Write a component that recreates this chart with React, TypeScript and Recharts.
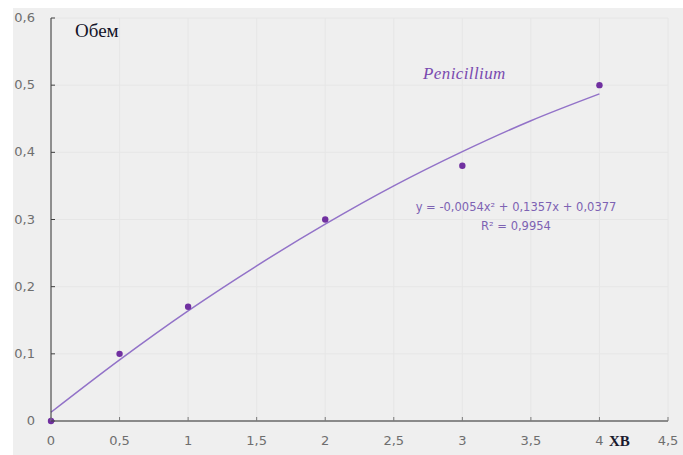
import { CartesianGrid, ComposedChart, Line, Scatter, XAxis, YAxis } from "recharts";

// measured points
const xValues = [0, 0.5, 1, 2, 3, 4];
const yValues = [0, 0.1, 0.17, 0.3, 0.38, 0.5];

// trend line
const trendX = [0, 0.5, 1, 1.5, 2, 2.5, 3, 3.5, 4];
const trendY = [0.013, 0.091, 0.164, 0.231, 0.293, 0.35, 0.401, 0.447, 0.487];

const xTicks = [0, 0.5, 1, 1.5, 2, 2.5, 3, 3.5, 4, 4.5];
const yTicks = [0, 0.1, 0.2, 0.3, 0.4, 0.5, 0.6];

const points = xValues.map((x, i) => ({ x, y: yValues[i] }));
const trend = trendX.map((x, i) => ({ x, t: trendY[i] }));

const fmt = (v: number) => String(v).replace(".", ",");

const labelFont = "DejaVu Sans, sans-serif";
const labelColor = "#6e6e6e";

function YTick({ x, y, payload }: any) {
  return (
    <g>
      <line x1={x + 16} x2={x + 20} y1={y} y2={y} stroke="#404040" />
      <text x={x} y={y} dy={4} textAnchor="end" fontSize={13} fontFamily={labelFont} fill={labelColor}>
        {fmt(payload.value)}
      </text>
    </g>
  );
}

function XTick({ x, y, payload }: any) {
  return (
    <g>
      <line x1={x} x2={x} y1={y - 13} y2={y - 17} stroke="#7a7a7a" />
      <text x={x} y={y} dy={11} textAnchor="middle" fontSize={13} fontFamily={labelFont} fill={labelColor}>
        {fmt(payload.value)}
      </text>
    </g>
  );
}

function Dot({ cx, cy }: any) {
  return <circle cx={cx} cy={cy} r={3.2} fill="#7030a0" />;
}

export default function App() {
  return (
    <div style={{ position: "absolute", left: 0, top: 0, width: 683, height: 455, background: "#ffffff" }}>
      <div style={{ position: "absolute", left: 13, top: 8, width: 670, height: 447, background: "#efefef" }} />
      <div style={{ position: "absolute", left: 0, top: 0 }}>
        <ComposedChart width={683} height={455} margin={{ top: 18, right: 15, bottom: 10, left: 0 }}>
          <CartesianGrid stroke="#e6e6e6" />
          <XAxis
            type="number"
            dataKey="x"
            domain={[0, 4.5]}
            ticks={xTicks}
            height={24}
            tickSize={0}
            tickMargin={13}
            tick={<XTick />}
            axisLine={{ stroke: "#8a8a8a", strokeWidth: 2 }}
            tickLine={false}
          />
          <YAxis
            type="number"
            domain={[0, 0.6]}
            ticks={yTicks}
            width={51}
            tickSize={0}
            tickMargin={16}
            tick={<YTick />}
            axisLine={{ stroke: "#333333" }}
            tickLine={false}
          />
          <Line
            data={trend}
            dataKey="t"
            type="monotone"
            stroke="#9272c8"
            strokeWidth={1.5}
            dot={false}
            isAnimationActive={false}
          />
          <Scatter data={points} dataKey="y" shape={<Dot />} isAnimationActive={false} />
          <text x={75} y={37} fontSize={19} fontFamily="Liberation Serif, serif" fill="#141428">
            Обем
          </text>
          <text x={423} y={79} fontSize={17} fontStyle="italic" fontFamily="Liberation Serif, serif" fill="#7a4bb0" letterSpacing={0.4}>
            Penicillium
          </text>
          <text x={516} y={211} textAnchor="middle" fontSize={11.5} fontFamily={labelFont} fill="#7d62b3">
            y = -0,0054x² + 0,1357x + 0,0377
          </text>
          <text x={516} y={230} textAnchor="middle" fontSize={11.5} fontFamily={labelFont} fill="#7d62b3">
            R² = 0,9954
          </text>
          <text x={609} y={446} fontSize={15} fontWeight="bold" fontFamily="Liberation Serif, serif" fill="#1a1a2e">
            ХВ
          </text>
        </ComposedChart>
      </div>
    </div>
  );
}
